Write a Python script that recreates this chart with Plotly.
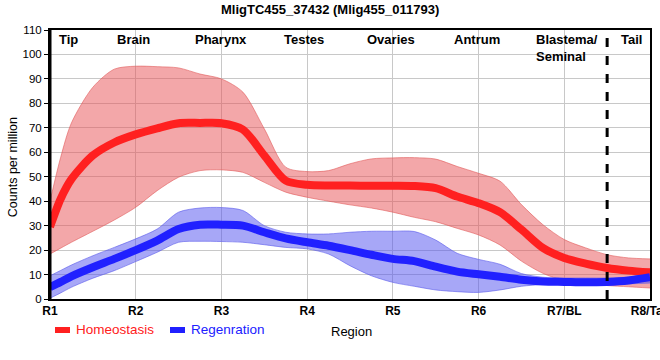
import plotly.graph_objects as go

# ---- data ----
x_pos = [1, 1.125, 1.25, 1.5, 1.75, 2, 2.25, 2.5, 2.75, 3, 3.25, 3.5, 3.75, 4,
         4.25, 4.5, 4.75, 5, 5.25, 5.5, 5.75, 6, 6.25, 6.5, 6.75, 7, 7.25, 7.5, 7.75, 8]

homeo_mean = [29.5, 41, 49, 58.7, 64, 67.3, 69.8, 71.9, 72, 71.9, 69.3, 58.7, 48.4, 46.7,
              46.4, 46.4, 46.3, 46.3, 46.2, 45.3, 41.9, 39.2, 35.5, 28.4, 20.9, 16.8, 14.5, 12.7, 11.6, 10.9]
homeo_upper = [40, 58, 72, 86.6, 94, 95.2, 95, 94.5, 92, 90, 84.6, 69.6, 53.9, 52.1,
               52.5, 55.3, 57.3, 57.7, 57.8, 57.2, 54.2, 51.4, 48.2, 38.6, 30.4, 24.3, 20.9, 18.1, 16.8, 16.4]
homeo_lower = [18.4, 20.8, 23.2, 27.7, 32.3, 37.5, 44.3, 49.8, 52.5, 52.8, 51.8, 47.7, 43.7, 41.6,
               40, 38.5, 37.2, 35.5, 33.4, 31.6, 28.9, 26.2, 22.1, 15.5, 10.5, 7.5, 6.5, 5.5, 5, 4.5]

regen_mean = [4.8, 7, 9.3, 13, 16.4, 20, 23.9, 28.6, 30.4, 30.4, 30, 27.3, 24.8, 23.2,
              21.8, 20, 18.1, 16.4, 15.5, 13.2, 11.2, 10.1, 9.1, 7.9, 7.2, 7, 6.8, 7, 7.6, 8.9]
regen_upper = [9.5, 11.7, 13.9, 17.7, 21.1, 24.6, 28.6, 35.5, 37.2, 37.4, 36.2, 30, 27.3, 26.6,
               26.6, 27.3, 27.7, 27.7, 27.6, 24.1, 18.7, 16.2, 14.2, 10.4, 8.9, 8.6, 8.6, 8.6, 9, 10]
regen_lower = [0.3, 2.5, 4.8, 8.5, 11.6, 15.3, 19.1, 23.2, 23.6, 23.5, 23.2, 22.2, 21.1, 20.5,
               18.4, 13.6, 9.5, 6.8, 5.2, 3.7, 3, 2.7, 3.7, 5.2, 5.9, 5.9, 5.9, 5.9, 6.2, 6.5]

tick_vals = [1, 2, 3, 4, 5, 6, 7, 8]
tick_text = ["R1", "R2", "R3", "R4", "R5", "R6", "R7/BL", "R8/Tail"]

region_names = ["Tip", "Brain", "Pharynx", "Testes", "Ovaries", "Antrum", "Blastema/<br>Seminal", "Tail"]
region_x = [1.21, 1.97, 3.0, 3.96, 4.98, 5.98, 6.65, 7.78]
tail_boundary = 7.5

series_names = ["Homeostasis", "Regenration"]

RED = "#ff2020"
BLUE = "#2020ff"
FONT = "Liberation Sans, Arial, sans-serif"

fig = go.Figure()

def band(upper, lower, fill, edge):
    fig.add_trace(go.Scatter(x=x_pos, y=upper, mode="lines",
                             line=dict(color=edge, width=1, shape="spline", smoothing=0.8),
                             hoverinfo="skip", showlegend=False))
    fig.add_trace(go.Scatter(x=x_pos, y=lower, mode="lines", fill="tonexty", fillcolor=fill,
                             line=dict(color=edge, width=1, shape="spline", smoothing=0.8),
                             hoverinfo="skip", showlegend=False))

band(homeo_upper, homeo_lower, "rgba(232,80,84,0.5)", "rgba(225,90,90,0.6)")
band(regen_upper, regen_lower, "rgba(80,80,240,0.5)", "rgba(90,90,235,0.6)")

fig.add_trace(go.Scatter(x=x_pos, y=homeo_mean, mode="lines", name=series_names[0],
                         line=dict(color=RED, width=8, shape="spline", smoothing=0.8),
                         showlegend=False))
fig.add_trace(go.Scatter(x=x_pos, y=regen_mean, mode="lines", name=series_names[1],
                         line=dict(color=BLUE, width=8, shape="spline", smoothing=0.8),
                         showlegend=False))

# dashed boundary line
fig.add_shape(type="line", x0=tail_boundary, x1=tail_boundary, y0=0, y1=110,
              xref="x", yref="y", line=dict(color="black", width=3, dash="dash"))
# thicker left axis line
fig.add_shape(type="line", x0=0, x1=0, y0=0, y1=1, xref="paper", yref="paper",
              line=dict(color="black", width=3))

annotations = []
for name, xv in zip(region_names, region_x):
    is_left = "<br>" in name
    annotations.append(dict(x=xv, y=110, xref="x", yref="y", text=name, showarrow=False,
                            xanchor="left" if is_left else "center", yanchor="top",
                            align="left", font=dict(family=FONT, size=13, color="black", weight="bold")))

# title
annotations.append(dict(x=0.4667, y=1.078, xref="paper", yref="paper", yanchor="middle",
                        text="MligTC455_37432 (Mlig455_011793)", showarrow=False,
                        font=dict(family=FONT, size=13, color="black", weight="bold")))
# y axis title
annotations.append(dict(x=-0.0617, y=0.49, xref="paper", yref="paper", textangle=-90,
                        xanchor="center", yanchor="middle",
                        text="Counts per million", showarrow=False,
                        font=dict(family=FONT, size=12.5, color="black")))
# x axis title
annotations.append(dict(x=0.5017, y=-0.119, xref="paper", yref="paper",
                        xanchor="center", yanchor="middle",
                        text="Region", showarrow=False,
                        font=dict(family=FONT, size=13, color="black")))
# legend
leg_items = [(series_names[0], RED, 0.0083), (series_names[1], BLUE, 0.2)]
for name, col, x0 in leg_items:
    fig.add_shape(type="rect", xref="paper", yref="paper", x0=x0, x1=x0 + 0.025,
                  y0=-0.1264, y1=-0.104, fillcolor=col, line=dict(width=0))
    annotations.append(dict(x=x0 + 0.0317, y=-0.1152, xref="paper", yref="paper",
                            xanchor="left", yanchor="middle", text=name, showarrow=False,
                            font=dict(family=FONT, size=13.5, color=col)))

fig.update_layout(
    width=660, height=360,
    margin=dict(l=50, r=10, t=30, b=61),
    plot_bgcolor="white", paper_bgcolor="white",
    showlegend=False,
    annotations=annotations,
    xaxis=dict(range=[1, 8], tickvals=tick_vals, ticktext=tick_text, automargin=False,
               showgrid=True, gridcolor="#c8c8c8", gridwidth=1,
               showline=True, linecolor="black", linewidth=2, mirror=True,
               ticks="", zeroline=False, ticklabeloverflow="allow",
               tickfont=dict(family=FONT, size=12, color="black", weight="bold")),
    yaxis=dict(range=[0, 110], dtick=10, tick0=0, automargin=False,
               showgrid=True, gridcolor="#c8c8c8", gridwidth=1,
               showline=True, linecolor="black", linewidth=2, mirror=True,
               ticks="outside", ticklen=4, tickcolor="black", zeroline=False,
               tickfont=dict(family=FONT, size=11.5, color="black")),
)

fig.write_html("out.html", config={"displayModeBar": False},
               post_script="document.body.style.margin='0';document.body.style.overflow='hidden';")
